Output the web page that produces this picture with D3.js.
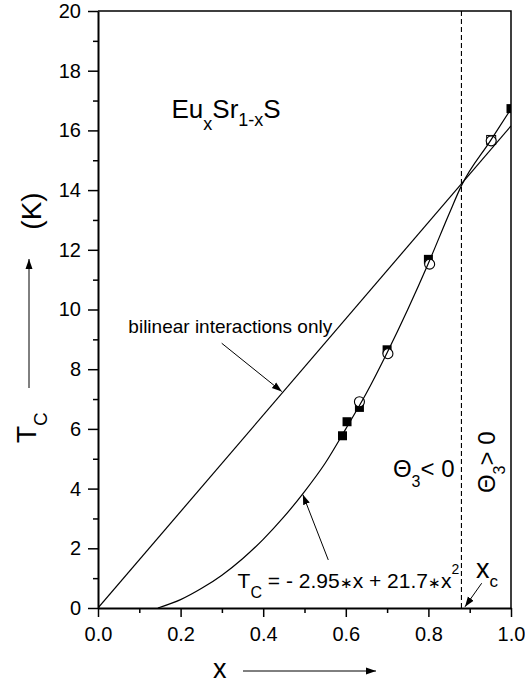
<!doctype html>
<html lang="en">
<head>
  <meta charset="utf-8">
  <title>EuxSr1-xS Tc</title>
  <style>
    body { margin: 0; background: #fff; }
    svg text { font-family: Arial, "Liberation Sans", Helvetica, sans-serif; fill: #000; }
  </style>
</head>
<body>
  <div id="chart"></div>

  <script src="https://d3js.org/d3.v7.min.js"></script>
  <script>
    // Data ------------------------------------------------------------------
    const xTicks = [0, 0.2, 0.4, 0.6, 0.8, 1.0];
    const xMinorTicks = [0.1, 0.3, 0.5, 0.7, 0.9];
    const yTicks = [0, 2, 4, 6, 8, 10, 12, 14, 16, 18, 20];
    const yMinorTicks = [1, 3, 5, 7, 9, 11, 13, 15, 17, 19];

    const bilinearX = [0, 1.0];
    const bilinearT = [0, 16.15];

    const fitX = [0.145, 0.2, 0.25, 0.3, 0.35, 0.4, 0.45, 0.5, 0.55, 0.6, 0.65, 0.7, 0.75, 0.8, 0.85, 0.88, 0.95, 1.0];
    const fitT = [0, 0.28, 0.65, 1.1, 1.65, 2.3, 3.05, 3.9, 4.85, 6.0, 7.2, 8.55, 10.0, 11.55, 13.2, 14.15, 15.65, 16.72];

    const squareX = [0.592, 0.603, 0.633, 0.70, 0.80, 1.0];
    const squareT = [5.77, 6.24, 6.72, 8.65, 11.68, 16.73];

    const circleX = [0.633, 0.702, 0.803, 0.952];
    const circleT = [6.91, 8.52, 11.52, 15.65];

    const openSquareX = [0.952];
    const openSquareT = [15.68];

    const xCritical = 0.88;

    // Layout ----------------------------------------------------------------
    const width = 525;
    const height = 688;

    const svg = d3.select("#chart")
      .append("svg")
      .attr("width", width)
      .attr("height", height);

    const x = d3.scaleLinear().domain([0, 1]).range([98, 511]);
    const y = d3.scaleLinear().domain([0, 20]).range([608, 11]);

    const defs = svg.append("defs");

    defs.append("clipPath")
      .attr("id", "plot-clip")
      .append("rect")
      .attr("x", x(0))
      .attr("y", y(20))
      .attr("width", x(1) - x(0))
      .attr("height", y(0) - y(20));

    defs.append("marker")
      .attr("id", "arrow")
      .attr("viewBox", "0 0 10 10")
      .attr("refX", 10)
      .attr("refY", 5)
      .attr("markerWidth", 10)
      .attr("markerHeight", 10)
      .attr("markerUnits", "userSpaceOnUse")
      .attr("orient", "auto")
      .append("path")
      .attr("d", "M0,1.5 L10,5 L0,8.5 Z")
      .attr("fill", "#000");

    // Axes ------------------------------------------------------------------
    svg.append("g")
      .attr("transform", `translate(${x(0)},0)`)
      .call(d3.axisLeft(y).tickValues(yTicks).tickSize(10).tickSizeOuter(0)
        .tickPadding(7).tickFormat(d3.format("d")));

    svg.append("g")
      .attr("transform", `translate(${x(0)},0)`)
      .call(d3.axisLeft(y).tickValues(yMinorTicks).tickSize(5).tickSizeOuter(0)
        .tickFormat(""))
      .select(".domain").remove();

    svg.append("g")
      .attr("transform", `translate(0,${y(0)})`)
      .call(d3.axisBottom(x).tickValues(xTicks).tickSize(9).tickSizeOuter(0)
        .tickPadding(10).tickFormat(d3.format(".1f")));

    svg.append("g")
      .attr("transform", `translate(0,${y(0)})`)
      .call(d3.axisBottom(x).tickValues(xMinorTicks).tickSize(5).tickSizeOuter(0)
        .tickFormat(""))
      .select(".domain").remove();

    svg.selectAll(".domain").attr("stroke-width", 2);
    svg.selectAll(".tick line").attr("stroke-width", 1.5);
    svg.selectAll(".tick text")
      .style("font-size", "20px")
      .style("font-family", "Arial, 'Liberation Sans', sans-serif");

    // frame: top and right
    svg.append("path")
      .attr("d", `M${x(0)},${y(20)} H${x(1)} V${y(0)}`)
      .attr("fill", "none")
      .attr("stroke", "#000")
      .attr("stroke-width", 1.5);

    // Plot ------------------------------------------------------------------
    const plot = svg.append("g").attr("clip-path", "url(#plot-clip)");

    plot.append("line")
      .attr("x1", x(xCritical)).attr("x2", x(xCritical))
      .attr("y1", y(0)).attr("y2", y(20))
      .attr("stroke", "#000")
      .attr("stroke-width", 1.1)
      .attr("stroke-dasharray", "5,3");

    const line = d3.line()
      .x(d => x(d[0]))
      .y(d => y(d[1]));

    plot.append("path")
      .datum(bilinearX.map((d, i) => [d, bilinearT[i]]))
      .attr("d", line)
      .attr("fill", "none")
      .attr("stroke", "#000")
      .attr("stroke-width", 1.2);

    plot.selectAll("rect.filled")
      .data(squareX.map((d, i) => [d, squareT[i]]))
      .enter()
      .append("rect")
      .attr("class", "filled")
      .attr("x", d => x(d[0]) - 4.5)
      .attr("y", d => y(d[1]) - 4.5)
      .attr("width", 9)
      .attr("height", 9)
      .attr("fill", "#000");

    plot.selectAll("rect.open")
      .data(openSquareX.map((d, i) => [d, openSquareT[i]]))
      .enter()
      .append("rect")
      .attr("class", "open")
      .attr("x", d => x(d[0]) - 4.5)
      .attr("y", d => y(d[1]) - 4.5)
      .attr("width", 9)
      .attr("height", 9)
      .attr("fill", "#fff")
      .attr("stroke", "#000")
      .attr("stroke-width", 1);

    plot.selectAll("circle")
      .data(circleX.map((d, i) => [d, circleT[i]]))
      .enter()
      .append("circle")
      .attr("cx", d => x(d[0]))
      .attr("cy", d => y(d[1]))
      .attr("r", 5)
      .attr("fill", "#fff")
      .attr("stroke", "#000")
      .attr("stroke-width", 1.1);

    plot.append("path")
      .datum(fitX.map((d, i) => [d, fitT[i]]))
      .attr("d", line.curve(d3.curveMonotoneX))
      .attr("fill", "none")
      .attr("stroke", "#000")
      .attr("stroke-width", 1.2);

    // Annotations -----------------------------------------------------------
    function arrow(x1, t1, x2, t2) {
      svg.append("line")
        .attr("x1", x(x1)).attr("y1", y(t1))
        .attr("x2", x(x2)).attr("y2", y(t2))
        .attr("stroke", "#000")
        .attr("stroke-width", 1)
        .attr("marker-end", "url(#arrow)");
    }

    // compound label
    const title = svg.append("text")
      .attr("x", x(0.178))
      .attr("y", y(16.4))
      .style("font-size", "26px");
    title.append("tspan").text("Eu");
    title.append("tspan").attr("dy", 12).style("font-size", "18px").text("x");
    title.append("tspan").attr("dy", -12).text("Sr");
    title.append("tspan").attr("dy", 8).style("font-size", "18px").text("1-x");
    title.append("tspan").attr("dy", -8).text("S");

    svg.append("text")
      .attr("x", x(0.0735))
      .attr("y", y(9.2))
      .style("font-size", "19px")
      .text("bilinear interactions only");
    arrow(0.2995, 8.87, 0.445, 7.25);

    const formula = svg.append("text")
      .attr("x", x(0.338))
      .attr("y", y(0.67))
      .style("font-size", "21px");
    formula.append("tspan").text("T");
    formula.append("tspan").attr("dy", 10).style("font-size", "16px").text("C");
    formula.append("tspan").attr("dy", -10).text(" = - 2.95");
    formula.append("tspan").style("font-size", "15px").text("\u2217");
    formula.append("tspan").text("x + 21.7");
    formula.append("tspan").style("font-size", "15px").text("\u2217");
    formula.append("tspan").text("x");
    formula.append("tspan").attr("dy", -14).style("font-size", "14px").text("2");
    arrow(0.5576, 1.61, 0.496, 3.8);

    const xc = svg.append("text")
      .attr("x", x(0.915))
      .attr("y", y(1.0))
      .style("font-size", "27px");
    xc.append("tspan").text("x");
    xc.append("tspan").attr("dy", 9).style("font-size", "17px").text("c");
    arrow(0.929, 0.83, 0.8886, 0.04);

    const thetaNeg = svg.append("text")
      .attr("x", x(0.714))
      .attr("y", y(4.39))
      .style("font-size", "24px");
    thetaNeg.append("tspan").text("\u0398");
    thetaNeg.append("tspan").attr("dy", 10).style("font-size", "16px").text("3");
    thetaNeg.append("tspan").attr("dy", -10).text("< 0");

    const thetaPos = svg.append("text")
      .attr("transform", `translate(${x(0.961)},${y(3.85)}) rotate(-90)`)
      .style("font-size", "24px");
    thetaPos.append("tspan").text("\u0398");
    thetaPos.append("tspan").attr("dy", 10).style("font-size", "16px").text("3");
    thetaPos.append("tspan").attr("dy", -10).text("> 0");

    // Axis titles -----------------------------------------------------------
    svg.append("text")
      .attr("x", 213)
      .attr("y", 678)
      .style("font-size", "27px")
      .text("x");

    svg.append("line")
      .attr("x1", 243).attr("y1", 671)
      .attr("x2", 376).attr("y2", 671)
      .attr("stroke", "#000")
      .attr("stroke-width", 1)
      .attr("marker-end", "url(#arrow)");

    const yTitle = svg.append("text")
      .attr("transform", "translate(36,443) rotate(-90)")
      .style("font-size", "28px");
    yTitle.append("tspan").text("T");
    yTitle.append("tspan").attr("dy", 11).style("font-size", "19px").text("C");

    svg.append("text")
      .attr("transform", "translate(41,211) rotate(-90)")
      .attr("text-anchor", "middle")
      .style("font-size", "28px")
      .text("(K)");

    svg.append("line")
      .attr("x1", 29).attr("y1", 388)
      .attr("x2", 29).attr("y2", 259)
      .attr("stroke", "#000")
      .attr("stroke-width", 1)
      .attr("marker-end", "url(#arrow)");
  </script>
</body>
</html>
